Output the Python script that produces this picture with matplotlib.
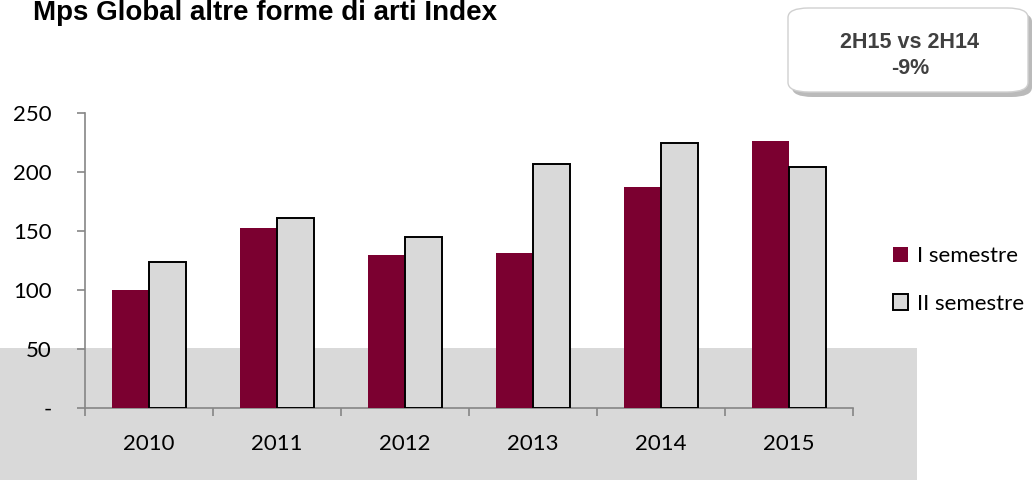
import matplotlib
matplotlib.use('Agg')

import matplotlib.pyplot as plt
import matplotlib.patches as mpatches
from matplotlib.patches import FancyBboxPatch
import numpy as np

years = ['2010', '2011', '2012', '2013', '2014', '2015']
first_half = [100, 152.5, 129.3, 131.4, 187.3, 226.5]
second_half = [123.4, 160.7, 144.6, 206.8, 224.2, 204.2]
y_ticks = [0, 50, 100, 150, 200, 250]
y_tick_labels = ['-', '50', '100', '150', '200', '250']

MAROON = '#7b0030'
LIGHT = '#d9d9d9'
AXIS_GREY = '#868686'
TICK_FONT = ['Lato', 'DejaVu Sans']

fig = plt.figure(figsize=(10.35, 4.8), dpi=100)
fig.patch.set_facecolor('white')

# grey band behind the lower part of the chart (own axes, kept at the back)
bg = fig.add_axes([0, 0, 1, 1], zorder=-5)
bg.set_axis_off()
bg.set_xlim(0, 1)
bg.set_ylim(0, 1)
bg.add_patch(mpatches.Rectangle((0, 0), 917 / 1035, 1 - 348 / 480,
                                facecolor=LIGHT, edgecolor='none'))

ax = fig.add_axes([85 / 1035, 1 - 408 / 480, 768 / 1035, 295 / 480])
ax.patch.set_alpha(0)

x = np.arange(len(years))
w = 0.29
ax.bar(x - w / 2, first_half, width=w, color=MAROON, edgecolor='none',
       zorder=3, label='I semestre')
ax.bar(x + w / 2, second_half, width=w, color=LIGHT, edgecolor='black',
       linewidth=1.4, zorder=3, label='II semestre')

ax.set_xlim(-0.5, len(years) - 0.5)
ax.set_ylim(0, 250)

ax.set_yticks(y_ticks)
ax.set_yticklabels(y_tick_labels, fontsize=16, family=TICK_FONT)
ax.set_xticks(x)
ax.set_xticklabels(years, fontsize=16, family=TICK_FONT)
ax.set_xticks(np.arange(len(years) + 1) - 0.5, minor=True)

ax.tick_params(axis='y', direction='out', length=6, width=1.2,
               color=AXIS_GREY, pad=18)
ax.tick_params(axis='x', which='major', length=0, pad=19)
ax.tick_params(axis='x', which='minor', direction='out', length=6,
               width=1.2, color=AXIS_GREY)

for side in ['top', 'right']:
    ax.spines[side].set_visible(False)
for side in ['left', 'bottom']:
    ax.spines[side].set_color(AXIS_GREY)
    ax.spines[side].set_linewidth(1.2)

leg = ax.legend(loc='center left', bbox_to_anchor=(1.052, 0.434),
                frameon=False, prop={'family': TICK_FONT, 'size': 16},
                handlelength=0.7, handleheight=0.7, handletextpad=0.4,
                labelspacing=1.25, borderaxespad=0, borderpad=0)

fig.text(33 / 1035, 1 - 20 / 480, 'Mps Global altre forme di arti Index',
         fontsize=20, fontweight='bold', family='Liberation Sans',
         ha='left', va='baseline')

# rounded call-out box with shadow
shadow = FancyBboxPatch((792 / 1035, 1 - 97 / 480), 240 / 1035, 85 / 480,
                        boxstyle='round,pad=0,rounding_size=0.02',
                        transform=fig.transFigure, facecolor='#8c8c8c',
                        edgecolor='none', alpha=0.6, zorder=4)
box = FancyBboxPatch((788 / 1035, 1 - 92 / 480), 240 / 1035, 84 / 480,
                     boxstyle='round,pad=0,rounding_size=0.02',
                     transform=fig.transFigure, facecolor='white',
                     edgecolor='#d0d0d0', linewidth=1, zorder=5)
fig.patches.extend([shadow, box])
fig.text(910 / 1035, 1 - 43 / 480, '2H15 vs 2H14', fontsize=15.5,
         fontweight='bold', family='Liberation Sans', color='#404040',
         ha='center', va='center', zorder=6)
fig.text(910 / 1035, 1 - 68 / 480, '-9%', fontsize=15.5,
         fontweight='bold', family='Liberation Sans', color='#404040',
         ha='center', va='center', zorder=6)

fig.savefig('out.png', dpi=100)
